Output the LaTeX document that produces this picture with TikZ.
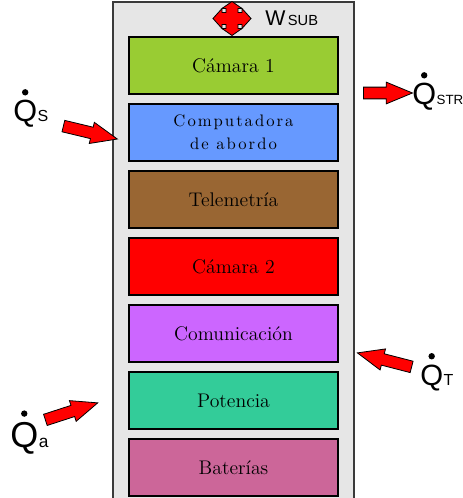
\documentclass[tikz,border=0pt]{standalone}
\usepackage{fontspec}
\setsansfont{Liberation Sans}
\newfontfamily\espfont[LetterSpace=12]{lmroman10-regular.otf}
\usetikzlibrary{shapes.arrows,calc}

\definecolor{fondo}{HTML}{E6E6E6}
\definecolor{borde}{HTML}{3A3A3A}
\definecolor{verde}{HTML}{99CC33}
\definecolor{azul}{HTML}{6699FF}
\definecolor{cafe}{HTML}{996633}
\definecolor{rojo}{HTML}{FF0000}
\definecolor{violeta}{HTML}{CC66FF}
\definecolor{turquesa}{HTML}{33CC99}
\definecolor{rosa}{HTML}{CC6699}

\newcommand{\espaciado}{\espfont\fontsize{12.5}{15.5}\selectfont}

\tikzset{
  modulo/.style={draw=black, line width=0.9pt, minimum width=156.75pt,
    minimum height=42.75pt, inner sep=0pt, align=center,
    font=\fontsize{14.8}{17}\selectfont},
  flujo/.style={single arrow, draw=black, fill=red, line width=0.6pt,
    single arrow tip angle=45, single arrow head extend=3.75pt,
    inner xsep=0pt, inner ysep=4.1pt, anchor=tail},
  qletra/.style={font=\sffamily\fontsize{#1}{#1}\selectfont, inner sep=0pt, anchor=base west},
  qsub/.style={font=\sffamily\fontsize{#1}{#1}\selectfont, inner sep=0pt, anchor=base west},
}

% Q con punto y subindice
\newcommand{\calor}[6]{%
  \node[qletra=#5] (#1) at (#2,#3) {Q};
  \node[qsub=#6] (#1sub) at (#1.base east) {#4};
  \fill ($(#1.north)+(0,-8)$) circle[radius=2.4pt];
}

\begin{document}
\begin{tikzpicture}[x=0.75pt,y=-0.75pt]

    \useasboundingbox (0,0) rectangle (462,498);

    % estructura
    \fill[fondo] (113,2) rectangle (354,498);
    \draw[borde, line width=1.1pt] (113,498) -- (113,2) -- (354,2) -- (354,498);

    \foreach \nombre/\col/\texto [count=\i from 0] in {cam1/verde/Cámara 1,
        comp/azul/{\espaciado Computadora\\\espaciado de abordo},
        tele/cafe/Telemetría, cam2/rojo/Cámara 2, comu/violeta/Comunicación,
        pot/turquesa/Potencia, bat/rosa/Baterías} {
      \node[modulo, fill=\col] (\nombre) at (233.5, 65.5+67*\i) {\texto};
    }

    % trabajo
    \draw[fill=red, line width=0.6pt, shift={(232,18.5)}]
      (19,0) -- (10,10) -- (10,6) -- (6,6) -- (6,10) -- (10,10) -- (0,17)
      -- (-10,10) -- (-6,10) -- (-6,6) -- (-10,6) -- (-10,10) -- (-19,0)
      -- (-10,-10) -- (-10,-6) -- (-6,-6) -- (-6,-10) -- (-10,-10) -- (0,-17)
      -- (10,-10) -- (6,-10) -- (6,-6) -- (10,-6) -- (10,-10) -- cycle;
    \node[font=\sffamily\fontsize{16}{16}\selectfont, inner sep=0pt, anchor=base west] (w) at (265,26) {W};
    \node[font=\sffamily\fontsize{11}{11}\selectfont, inner sep=0pt, anchor=base west] (wsub) at ($(w.base east)+(2,0)$) {SUB};

    % flujos de calor
    \node[flujo, minimum height=41.6pt, rotate=-13.5] (fs) at (63,126) {};
    \node[flujo, minimum height=36.8pt] (fstr) at (363,93) {};
    \node[flujo, minimum height=41.3pt, rotate=18] (fa) at (45,420) {};
    \node[flujo, minimum height=42pt, rotate=165.5] (ft) at (412,367) {};

    \calor{qs}{13}{122}{S}{23}{12}
    \calor{qstr}{412}{105}{STR}{23}{10}
    \calor{qt}{420}{385}{T}{22}{12}
    \calor{qa}{10}{447}{a}{27}{13}

\end{tikzpicture}
\end{document}
